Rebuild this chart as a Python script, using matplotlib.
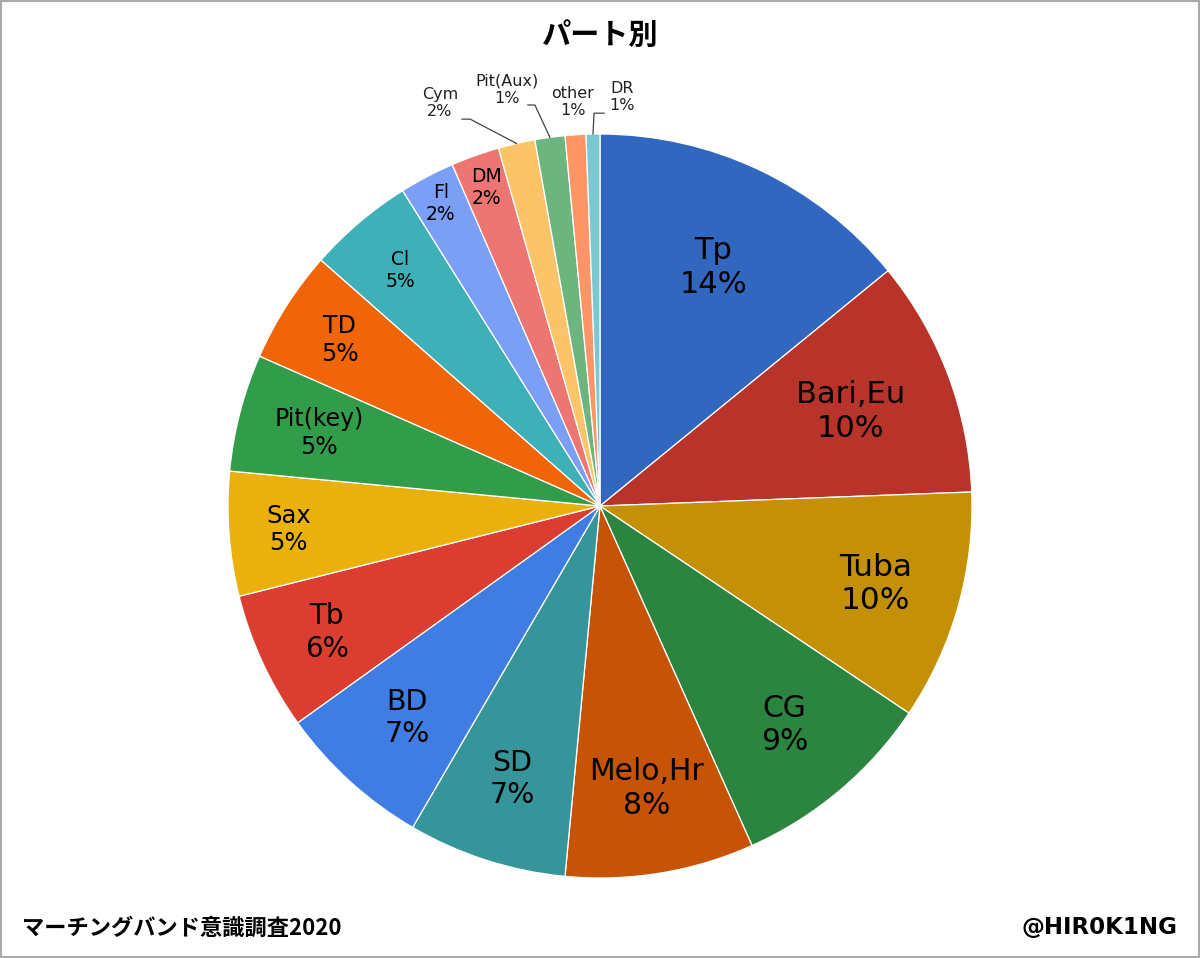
import matplotlib
matplotlib.use("Agg")
import numpy as np
import matplotlib.pyplot as plt
from matplotlib.patches import Rectangle

# data (share in %)
parts = ['Tp', 'Bari,Eu', 'Tuba', 'CG', 'Melo,Hr', 'SD', 'BD', 'Tb', 'Sax',
         'Pit(key)', 'TD', 'Cl', 'Fl', 'DM', 'Cym', 'Pit(Aux)', 'other', 'DR']
share = [14.1, 10.3, 10.0, 8.9, 8.2, 6.9, 6.7, 6.0, 5.4,
         5.1, 4.9, 4.6, 2.4, 2.1, 1.6, 1.3, 0.9, 0.6]

colors = ['#3267c0', '#b83329', '#c39006', '#2b8540', '#c65306', '#36959b',
          '#3f7de2', '#db3e31', '#eab00c', '#319d4b', '#ef6508', '#3fb0b8',
          '#7b9ff5', '#ed7672', '#fcc469', '#6db57e', '#ff9466', '#7cc8d0']

# label style for slices with inside labels
in_size = [22, 22, 22.5, 21.5, 21.5, 20.5, 20.5, 20, 17.5, 17, 17, 13.5, 13.5, 13.5]
in_r = [0.71, 0.72, 0.77, 0.77, 0.77, 0.77, 0.77, 0.81, 0.84, 0.78, 0.83, 0.83, 0.92, 0.91]
# outside labels: text centre, leader start, leader elbow (None = no line)
out_xy = [(-0.43, 1.083), (-0.25, 1.118), (-0.073, 1.086), (0.059, 1.10)]
out_lead = [((-0.371, 1.040), (-0.349, 1.040)),
            ((-0.194, 1.078), (-0.175, 1.078)),
            None,
            ((0.011, 1.056), (-0.016, 1.056))]

fig = plt.figure(figsize=(12, 9.58), dpi=100)
ax = fig.add_axes([0.19, 0.0835, 0.62, 0.7766])

wedges, _ = ax.pie(share, colors=colors, startangle=90, counterclock=False,
                   radius=1.0, wedgeprops=dict(edgecolor='white', linewidth=0.9))
ax.set_xlim(-1, 1)
ax.set_ylim(-1, 1)
ax.set_axis_off()

total = sum(share)
for i, w in enumerate(wedges):
    pct = round(share[i] / total * 100)
    txt = f"{parts[i]}\n{pct}%"
    mid = np.deg2rad((w.theta1 + w.theta2) / 2)
    if i < len(in_size):
        r = in_r[i]
        ax.text(r * np.cos(mid), r * np.sin(mid), txt, ha='center', va='center',
                fontsize=in_size[i], family='DejaVu Sans', color='black')
    else:
        j = i - len(in_size)
        x, y = out_xy[j]
        ax.text(x, y, txt, ha='center', va='center', fontsize=11.5,
                family='DejaVu Sans', color='#222222')
        if out_lead[j] is not None:
            (sx, sy), (ex, ey) = out_lead[j]
            ax.plot([sx, ex, np.cos(mid)], [sy, ey, np.sin(mid)],
                    color='#444444', lw=0.9, clip_on=False)

jp = ['Noto Sans CJK JP', 'DejaVu Sans']
fig.text(0.5, 1 - 35 / 958, 'パート別', ha='center', va='center',
         fontsize=21, fontweight='bold', family=jp)
fig.text(22 / 1200, 1 - 928 / 958, 'マーチングバンド意識調査2020', ha='left', va='center',
         fontsize=16, fontweight='bold', family=jp)
fig.text(1177 / 1200, 1 - 928 / 958, '@HIR0K1NG', ha='right', va='center',
         fontsize=16.5, fontweight='bold', family='DejaVu Sans')

fig.patches.append(Rectangle((0.001, 0.001), 0.998, 0.998, transform=fig.transFigure,
                             fill=False, edgecolor='#aaaaaa', linewidth=1.5))

fig.savefig('out.png', dpi=100, facecolor='white')
